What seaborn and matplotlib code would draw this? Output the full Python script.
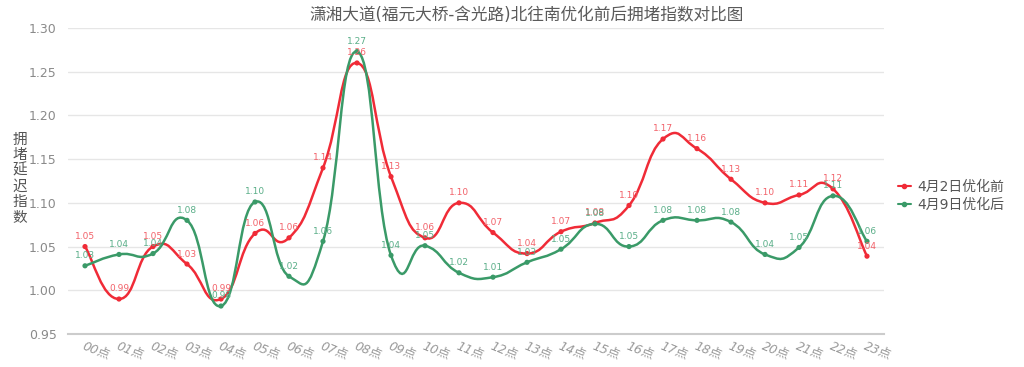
import numpy as np
import pandas as pd
import matplotlib
matplotlib.use("Agg")
import matplotlib.pyplot as plt
from matplotlib.path import Path
from matplotlib.patches import PathPatch
from matplotlib.lines import Line2D
import seaborn as sns

title = "潇湘大道(福元大桥-含光路)北往南优化前后拥堵指数对比图"
hours = [f"{h:02d}点" for h in range(24)]
before = [1.05, 0.99, 1.05, 1.03, 0.99, 1.065, 1.06, 1.14, 1.26, 1.13, 1.06, 1.10,
          1.066, 1.042, 1.067, 1.077, 1.097, 1.173, 1.162, 1.127, 1.10, 1.109, 1.116, 1.039]
after = [1.028, 1.041, 1.042, 1.08, 0.982, 1.101, 1.016, 1.056, 1.273, 1.04, 1.051, 1.02,
         1.015, 1.032, 1.047, 1.076, 1.05, 1.08, 1.08, 1.078, 1.041, 1.049, 1.108, 1.056]
series_names = ["4月2日优化前", "4月9日优化后"]
y_label = "拥堵延迟指数"
y_ticks = [0.95, 1.00, 1.05, 1.10, 1.15, 1.20, 1.25, 1.30]

red = "#f02b37"
green = "#3a9a68"
red_lbl = "#f2626a"
green_lbl = "#5aae88"

sns.set_theme(style="white")
plt.rcParams["font.family"] = ["DejaVu Sans", "Noto Sans CJK SC"]

fig = plt.figure(figsize=(10.24, 3.67), dpi=100)
ax = fig.add_axes([68 / 1024, 1 - 334 / 367, (884 - 68) / 1024, (334 - 28) / 367])

x = np.arange(len(hours))
df = pd.DataFrame({
    "x": np.concatenate([x, x]),
    "y": before + after,
    "s": [series_names[0]] * len(hours) + [series_names[1]] * len(hours),
})


def smooth_path(xs, ys, s=0.25):
    pts = np.column_stack([xs, ys]).astype(float)
    verts = [pts[0]]
    codes = [Path.MOVETO]
    n = len(pts)
    for i in range(n - 1):
        p0 = pts[i - 1] if i > 0 else pts[i]
        p1 = pts[i]
        p2 = pts[i + 1]
        p3 = pts[i + 2] if i + 2 < n else pts[i + 1]
        c1 = p1 + (p2 - p0) * s
        c2 = p2 - (p3 - p1) * s
        verts += [c1, c2, p2]
        codes += [Path.CURVE4] * 3
    return Path(verts, codes)


for vals, col in [(before, red), (after, green)]:
    ax.add_patch(PathPatch(smooth_path(x, vals), facecolor="none", edgecolor=col,
                           lw=1.8, zorder=3))

sns.scatterplot(data=df, x="x", y="y", hue="s", palette=[red, green], s=14,
                edgecolor="none", legend=False, ax=ax, zorder=4)

for vals, col in [(before, red_lbl), (after, green_lbl)]:
    for xi, v in zip(x, vals):
        ax.annotate(f"{v:.2f}", (xi, v), xytext=(0, 4), textcoords="offset points",
                    ha="center", va="bottom", fontsize=6.5, color=col, zorder=5)

ax.set_xlim(-0.5, 23.5)
ax.set_ylim(0.95, 1.30)
ax.set_yticks(y_ticks)
ax.set_yticklabels([f"{t:.2f}" for t in y_ticks], fontsize=9, color="#8a8a8a")
ax.set_xticks(x)
ax.set_xticklabels(hours, rotation=-22, ha="left", va="top", rotation_mode="anchor",
                   fontsize=9, color="#999999", style="italic")
ax.tick_params(axis="x", length=0, pad=4)
ax.tick_params(axis="y", length=0, pad=8)
ax.set_xlabel("")
ax.set_ylabel("")
ax.grid(axis="y", color="#e6e6e6", lw=1)
ax.grid(axis="x", visible=False)
for sp in ["top", "right", "left"]:
    ax.spines[sp].set_visible(False)
ax.spines["bottom"].set_color("#cccccc")
ax.spines["bottom"].set_linewidth(1.5)

fig.text(527 / 1024, 1 - 15 / 367, title, ha="center", va="center", fontsize=12,
         color="#5a5a5a")
fig.text(20 / 1024, 1 - 178 / 367, "\n".join(y_label), ha="center", va="center",
         fontsize=10.5, color="#555555", linespacing=1.05)

handles = [Line2D([0], [0], color=c, lw=1.5, marker="o", markersize=3) for c in [red, green]]
fig.legend(handles, series_names, loc="center left", bbox_to_anchor=(885 / 1024, 1 - 196 / 367),
           frameon=False, fontsize=10, handlelength=1.0, handletextpad=0.4,
           labelspacing=0.25, labelcolor="#555555")

fig.savefig("out.png", dpi=100)
